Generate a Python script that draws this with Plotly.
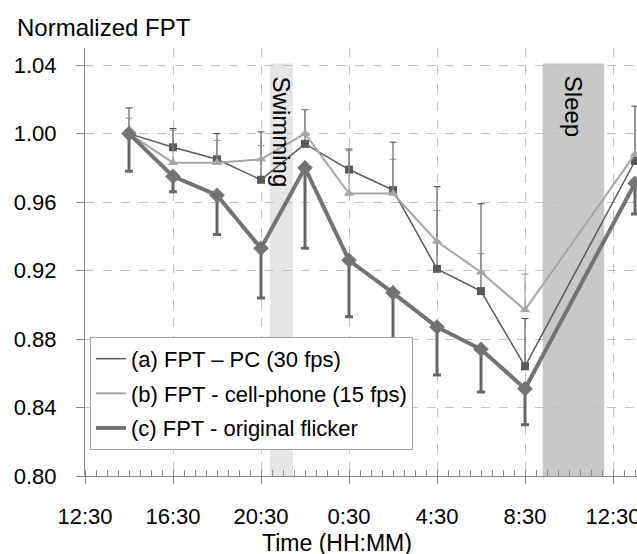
import plotly.graph_objects as go

# ---------------- data ----------------
# hours elapsed since 12:30 on day 1
hours = [2, 4, 6, 8, 10, 12, 14, 16, 18, 20, 25]
time_labels = ["14:30", "16:30", "18:30", "20:30", "22:30", "0:30", "2:30",
               "4:30", "6:30", "8:30", "13:30"]

fpt_pc = [1.000, 0.992, 0.985, 0.973, 0.994, 0.979, 0.967, 0.921, 0.908, 0.864, 0.984]
pc_err_plus = [0.015, 0.011, 0.015, 0.028, 0.020, 0.012, 0.028, 0.048, 0.051, 0.028, 0.032]

fpt_phone = [1.000, 0.983, 0.983, 0.985, 1.000, 0.965, 0.965, 0.937, 0.919, 0.897, 0.988]
phone_err_plus = [0.009, 0.019, 0.013, 0.008, 0.014, 0.025, 0.020, 0.018, 0.011, 0.021, 0.028]

fpt_flicker = [1.000, 0.975, 0.964, 0.933, 0.980, 0.926, 0.907, 0.887, 0.874, 0.851, 0.971]
flicker_err_minus = [0.022, 0.009, 0.023, 0.029, 0.047, 0.033, 0.032, 0.028, 0.025, 0.021, 0.018]

tick_hours = [0, 4, 8, 12, 16, 20, 24]
tick_labels = ["12:30", "16:30", "20:30", "0:30", "4:30", "8:30", "12:30"]

series_names = ["(a) FPT \u2013 PC (30 fps)", "(b) FPT - cell-phone (15 fps)",
                "(c) FPT - original flicker"]

swim_span = [8.4, 9.45]
sleep_span = [20.8, 23.6]
shade_top = 1.041

# ---------------- figure ----------------
FONT = "Arial, Liberation Sans, sans-serif"
fig = go.Figure()

zeros = [0] * len(hours)

fig.add_trace(go.Scatter(
    x=hours, y=fpt_pc, mode="lines+markers", showlegend=False,
    line=dict(color="#595959", width=1.5),
    marker=dict(symbol="square", size=8, color="#595959"),
    error_y=dict(type="data", symmetric=False, array=pc_err_plus, arrayminus=zeros,
                 color="#404040", thickness=1, width=3.5),
))
fig.add_trace(go.Scatter(
    x=hours, y=fpt_phone, mode="lines+markers", showlegend=False,
    line=dict(color="#a6a6a6", width=2),
    marker=dict(symbol="triangle-up", size=9, color="#a6a6a6"),
    error_y=dict(type="data", symmetric=False, array=phone_err_plus, arrayminus=zeros,
                 color="#8c8c8c", thickness=1, width=3.5),
))
fig.add_trace(go.Scatter(
    x=hours, y=fpt_flicker, mode="lines+markers", showlegend=False,
    line=dict(color="#737373", width=4),
    marker=dict(symbol="diamond", size=12, color="#737373"),
    error_y=dict(type="data", symmetric=False, array=zeros, arrayminus=flicker_err_minus,
                 color="#666666", thickness=3, width=4),
))

# legend entries (line only, like the original)
legend_styles = [("#595959", 1.5), ("#a6a6a6", 2), ("#737373", 4)]
for i, (name, (c, w)) in enumerate(zip(series_names, legend_styles)):
    fig.add_trace(go.Scatter(x=[None], y=[None], mode="lines", name=name,
                             legendgroup=f"g{i}", line=dict(color=c, width=w)))

# shaded activity periods
fig.add_shape(type="rect", xref="x", yref="y", x0=swim_span[0], x1=swim_span[1],
              y0=0.80, y1=shade_top, fillcolor="#e6e6e6", line_width=0, layer="below")
fig.add_shape(type="rect", xref="x", yref="y", x0=sleep_span[0], x1=sleep_span[1],
              y0=0.80, y1=shade_top, fillcolor="#c8c8c8", line_width=0, layer="below")

fig.add_annotation(x=sum(swim_span) / 2, y=1.001, xref="x", yref="y", text="Swimming",
                   textangle=90, showarrow=False, font=dict(family=FONT, size=24, color="#000"))
fig.add_annotation(x=sum(sleep_span) / 2, y=1.016, xref="x", yref="y", text="Sleep",
                   textangle=90, showarrow=False, font=dict(family=FONT, size=24, color="#000"))

# axis titles
fig.add_annotation(x=-0.127, y=1.047, xref="paper", yref="paper", text="Normalized FPT",
                   xanchor="left", yanchor="middle", showarrow=False,
                   font=dict(family=FONT, size=24, color="#000"))
fig.add_annotation(x=0.457, y=-0.1565, xref="paper", yref="paper", text="Time (HH:MM)",
                   xanchor="center", yanchor="middle", showarrow=False,
                   font=dict(family=FONT, size=23, color="#000"))

fig.update_layout(
    template="none",
    width=637, height=554,
    margin=dict(l=85, r=0, t=48, b=78),
    paper_bgcolor="white", plot_bgcolor="white",
    font=dict(family=FONT, size=22, color="#000"),
    legend=dict(x=0.009, y=0.325, xanchor="left", yanchor="top",
                bgcolor="white", bordercolor="#a0a0a0", borderwidth=1,
                font=dict(family=FONT, size=22, color="#000"),
                traceorder="grouped", tracegroupgap=3, itemwidth=30),
)

fig.update_xaxes(
    range=[0, 552 / 22], tickmode="array", tickvals=tick_hours, ticktext=tick_labels,
    showline=True, linecolor="#888888", linewidth=1,
    ticks="outside", ticklen=7, tickcolor="#888888", tickwidth=1,
    ticklabelstandoff=14, ticklabeloverflow="allow",
    showgrid=True, gridcolor="#c0c0c0", griddash="dash", gridwidth=1,
    zeroline=False, automargin=False,
    tickfont=dict(family=FONT, size=22, color="#000"),
    minor=dict(dtick=0.5, tick0=0, ticks="inside", ticklen=6, tickcolor="#888888",
               showgrid=False),
)
fig.update_yaxes(
    range=[0.80, 1.05], tick0=0.80, dtick=0.04, tickformat=".2f",
    showline=True, linecolor="#888888", linewidth=1,
    ticks="outside", ticklen=8, tickcolor="#888888", tickwidth=1,
    ticklabelstandoff=15,
    showgrid=True, gridcolor="#c0c0c0", griddash="dash", gridwidth=1,
    zeroline=False, automargin=False,
    tickfont=dict(family=FONT, size=22, color="#000"),
)

fig.write_html(
    "out.html",
    config={"displayModeBar": False},
    post_script="document.body.style.margin='0';document.body.style.overflow='hidden';",
)
